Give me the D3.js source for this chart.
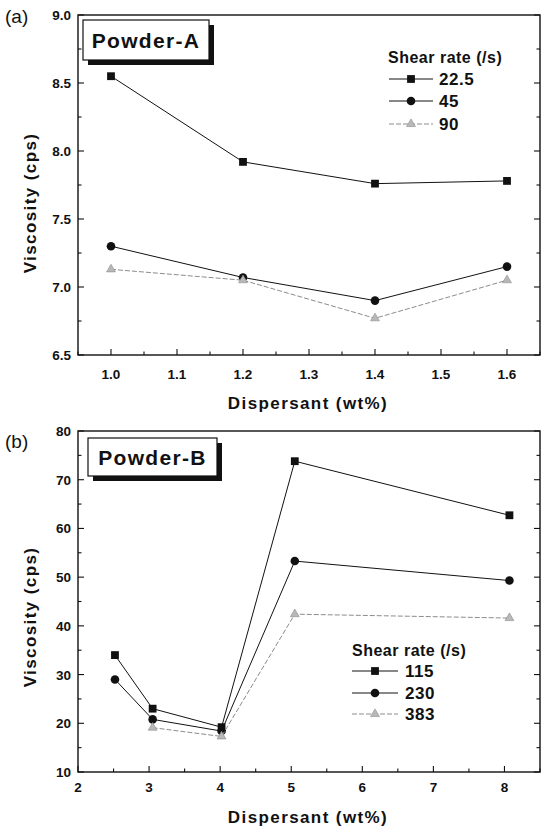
<!DOCTYPE html>
<html>
<head>
<meta charset="utf-8">
<script src="https://cdn.jsdelivr.net/npm/d3@7"></script>
<style>
  body { margin: 0; background: #fff; }
  svg { display: block; font-family: "Liberation Sans", Arial, sans-serif; }
  .tick-label { font-size: 13.5px; font-weight: bold; fill: #111; }
  .axis-title { font-size: 17px; font-weight: bold; letter-spacing: 1.4px; fill: #111; }
  .legend-title { font-size: 16px; font-weight: bold; letter-spacing: 0.5px; fill: #111; }
  .legend-item { font-size: 17px; font-weight: bold; letter-spacing: 0.5px; fill: #111; }
  .panel-tag { font-size: 19px; fill: #111; }
  .box-label { font-size: 21px; font-weight: bold; letter-spacing: 1.3px; fill: #111; }
</style>
</head>
<body>
<svg id="chart" width="545" height="829"></svg>
<script>
// panel (a) - Powder-A
const dispersantA = [1.0, 1.2, 1.4, 1.6]
const viscA_225 = [8.55, 7.92, 7.76, 7.78]
const viscA_45 = [7.30, 7.07, 6.90, 7.15]
const viscA_90 = [7.13, 7.05, 6.77, 7.05]
const ratesA = ['22.5', '45', '90']
const xTicksA = [1.0, 1.1, 1.2, 1.3, 1.4, 1.5, 1.6]
const yTicksA = [6.5, 7.0, 7.5, 8.0, 8.5, 9.0]

// panel (b) - Powder-B
const dispersantB = [2.52, 3.05, 4.02, 5.05, 8.07]
const viscB_115 = [34.0, 23.0, 19.2, 73.8, 62.7]
const viscB_230 = [29.0, 20.8, 18.4, 53.3, 49.3]
const dispersantB_383 = [3.05, 4.02, 5.05, 8.07]
const viscB_383 = [19.1, 17.3, 42.4, 41.6]
const ratesB = ['115', '230', '383']
const xTicksB = [2, 3, 4, 5, 6, 7, 8]
const yTicksB = [10, 20, 30, 40, 50, 60, 70, 80]

const svg = d3.select('#chart')

const zip = (xs, ys) => xs.map((x, i) => ({ x, y: ys[i] }))

const styles = [
  { marker: 'square', stroke: '#111', fill: '#111', dash: null },
  { marker: 'circle', stroke: '#111', fill: '#111', dash: null },
  { marker: 'triangle', stroke: '#8c8c8c', fill: '#b8b8b8', dash: '5,2' }
]

drawPanel({
  tag: '(a)', tagY: 23,
  left: 78, right: 540, top: 15, bottom: 355,
  xDomain: [0.95, 1.65], yDomain: [6.5, 9.0],
  xTicks: xTicksA, xMinor: 0.05, yTicks: yTicksA, yMinor: 0.25,
  xFmt: d3.format('.1f'), yFmt: d3.format('.1f'),
  series: [zip(dispersantA, viscA_225), zip(dispersantA, viscA_45), zip(dispersantA, viscA_90)],
  rates: ratesA,
  box: { x: 83, y: 20, w: 126, h: 40, label: 'Powder-A' },
  legend: { x: 388, y: 63, lineX0: 389, lineX1: 433, textX: 439, rowY: [79, 101, 124] },
  yTitleY: 203, xTitleY: 409, tickLabelY: 379
})

drawPanel({
  tag: '(b)', tagY: 448,
  left: 78, right: 540, top: 431, bottom: 772,
  xDomain: [2, 8.5], yDomain: [10, 80],
  xTicks: xTicksB, xMinor: 0.5, yTicks: yTicksB, yMinor: 5,
  xFmt: d3.format('d'), yFmt: d3.format('d'),
  series: [zip(dispersantB, viscB_115), zip(dispersantB, viscB_230), zip(dispersantB_383, viscB_383)],
  rates: ratesB,
  box: { x: 88, y: 438, w: 129, h: 38, label: 'Powder-B' },
  legend: { x: 352, y: 656, lineX0: 352, lineX1: 398, textX: 405, rowY: [671, 693, 714] },
  yTitleY: 617, xTitleY: 823, tickLabelY: 792
})

function drawMarker (g, type, cx, cy, st) {
  if (type === 'square') {
    g.append('rect').attr('x', cx - 3.9).attr('y', cy - 3.9)
      .attr('width', 7.8).attr('height', 7.8).attr('fill', st.fill)
  } else if (type === 'circle') {
    g.append('circle').attr('cx', cx).attr('cy', cy).attr('r', 4.3).attr('fill', st.fill)
  } else {
    g.append('path').attr('d', d3.symbol(d3.symbolTriangle, 34)())
      .attr('transform', 'translate(' + cx + ',' + cy + ')')
      .attr('fill', st.fill).attr('stroke', st.stroke).attr('stroke-width', 0.6)
  }
}

function drawPanel (p) {
  const x = d3.scaleLinear().domain(p.xDomain).range([p.left, p.right])
  const y = d3.scaleLinear().domain(p.yDomain).range([p.bottom, p.top])
  const g = svg.append('g')

  // minor + major ticks pointing inward (left, bottom, right)
  const xMinorTicks = d3.range(p.xDomain[0], p.xDomain[1] + 1e-9, p.xMinor)
  const yMinorTicks = d3.range(p.yDomain[0], p.yDomain[1] + 1e-9, p.yMinor)
  const isMajor = (v, list) => list.some(t => Math.abs(t - v) < 1e-6)

  xMinorTicks.forEach(v => {
    const len = isMajor(v, p.xTicks) ? 6 : 3.5
    g.append('line').attr('x1', x(v)).attr('x2', x(v))
      .attr('y1', p.bottom).attr('y2', p.bottom - len)
      .attr('stroke', '#111').attr('stroke-width', 1.1)
  })
  yMinorTicks.forEach(v => {
    const len = isMajor(v, p.yTicks) ? 6 : 3.5
    g.append('line').attr('x1', p.left).attr('x2', p.left + len)
      .attr('y1', y(v)).attr('y2', y(v))
      .attr('stroke', '#111').attr('stroke-width', 1.1)
    g.append('line').attr('x1', p.right).attr('x2', p.right - len)
      .attr('y1', y(v)).attr('y2', y(v))
      .attr('stroke', '#111').attr('stroke-width', 1.1)
  })

  // frame
  g.append('rect').attr('x', p.left).attr('y', p.top)
    .attr('width', p.right - p.left).attr('height', p.bottom - p.top)
    .attr('fill', 'none').attr('stroke', '#111').attr('stroke-width', 1.4)

  // tick labels
  g.selectAll('.xl').data(p.xTicks).enter().append('text')
    .attr('class', 'tick-label').attr('text-anchor', 'middle')
    .attr('x', d => x(d)).attr('y', p.tickLabelY).text(p.xFmt)
  g.selectAll('.yl').data(p.yTicks).enter().append('text')
    .attr('class', 'tick-label').attr('text-anchor', 'end')
    .attr('x', p.left - 7).attr('y', d => y(d) + 5).text(p.yFmt)

  // axis titles
  g.append('text').attr('class', 'axis-title').attr('text-anchor', 'middle')
    .attr('x', 308).attr('y', p.xTitleY).text('Dispersant (wt%)')
  g.append('text').attr('class', 'axis-title').attr('text-anchor', 'middle')
    .attr('transform', 'translate(36,' + p.yTitleY + ') rotate(-90)')
    .text('Viscosity (cps)')

  // panel tag
  g.append('text').attr('class', 'panel-tag').attr('x', 5).attr('y', p.tagY).text(p.tag)

  // series
  const line = d3.line().x(d => x(d.x)).y(d => y(d.y))
  p.series.forEach((s, i) => {
    const st = styles[i]
    g.append('path').datum(s).attr('d', line)
      .attr('fill', 'none').attr('stroke', st.stroke).attr('stroke-width', 1)
      .attr('stroke-dasharray', st.dash)
    s.forEach(d => drawMarker(g, st.marker, x(d.x), y(d.y), st))
  })

  // label box with drop shadow
  const b = p.box
  g.append('rect').attr('x', b.x + 5).attr('y', b.y + 5).attr('width', b.w).attr('height', b.h)
    .attr('fill', '#111')
  g.append('rect').attr('x', b.x).attr('y', b.y).attr('width', b.w).attr('height', b.h)
    .attr('fill', '#fff').attr('stroke', '#111').attr('stroke-width', 1.2)
  g.append('text').attr('class', 'box-label').attr('text-anchor', 'middle')
    .attr('x', b.x + b.w / 2).attr('y', b.y + b.h / 2 + 7.5).text(b.label)

  // legend
  const L = p.legend
  g.append('text').attr('class', 'legend-title').attr('x', L.x).attr('y', L.y).text('Shear rate (/s)')
  p.rates.forEach((r, i) => {
    const st = styles[i]
    const yy = L.rowY[i]
    g.append('line').attr('x1', L.lineX0).attr('x2', L.lineX1).attr('y1', yy).attr('y2', yy)
      .attr('stroke', st.stroke).attr('stroke-width', 1).attr('stroke-dasharray', st.dash)
    drawMarker(g, st.marker, (L.lineX0 + L.lineX1) / 2, yy, st)
    g.append('text').attr('class', 'legend-item').attr('x', L.textX).attr('y', yy + 6).text(r)
  })
}
</script>
</body>
</html>
